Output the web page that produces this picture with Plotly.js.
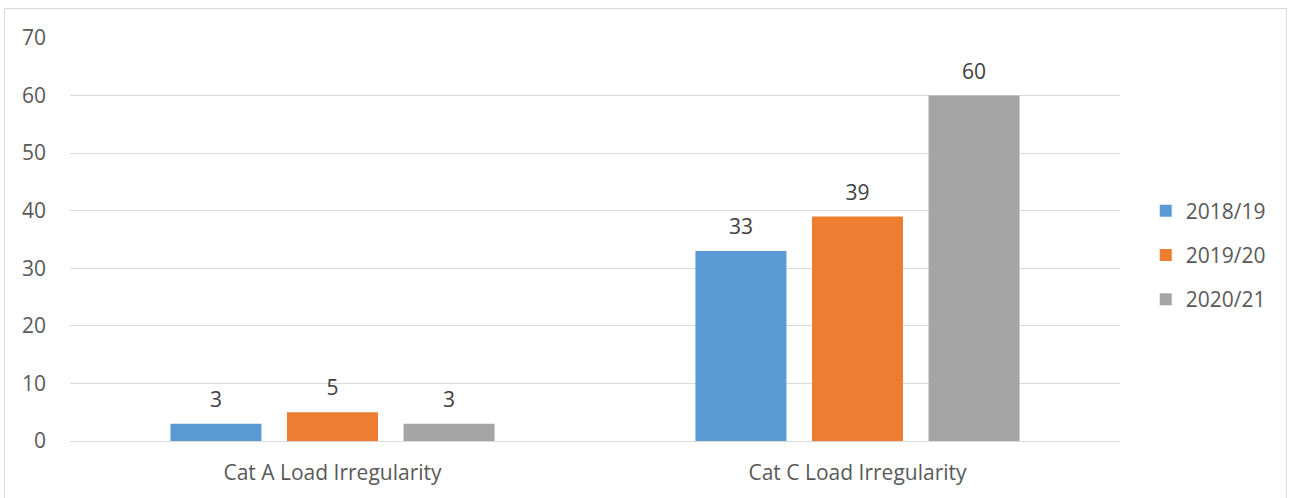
<!DOCTYPE html>
<html>
<head>
<meta charset="utf-8">
<script src="https://cdn.plot.ly/plotly-3.0.1.min.js"></script>
<style>
html,body{margin:0;padding:0;background:#fff;}
#frame{position:absolute;left:4px;top:8px;width:1283px;height:500px;border:1px solid #d9d9d9;box-sizing:border-box;}
#chart{position:absolute;left:0;top:0;width:1290px;height:498px;}
</style>
</head>
<body>
<div id="frame"></div>
<div id="chart"></div>
<script>
const categories = ["Cat A Load Irregularity", "Cat C Load Irregularity"];
const seriesNames = ["2018/19", "2019/20", "2020/21"];
const values2018 = [3, 33];
const values2019 = [5, 39];
const values2020 = [3, 60];
const colors = ["#5B9BD5", "#ED7D31", "#A5A5A5"];
const yTicks = [0, 10, 20, 30, 40, 50, 60, 70];

const allValues = [values2018, values2019, values2020];
const barTraces = allValues.map((vals, i) => ({
  type: "bar",
  name: seriesNames[i],
  x: categories,
  y: vals,
  marker: {color: colors[i]},
  legendgroup: "g" + i,
  hoverinfo: "none"
}));
const labelTraces = allValues.map((vals, i) => ({
  type: "scatter",
  mode: "markers+text",
  x: categories,
  y: vals,
  text: vals.map(String),
  textposition: "top center",
  marker: {size: 17, opacity: 0},
  textfont: {family: "Open Sans, sans-serif", size: 21, color: "#404040"},
  cliponaxis: false,
  showlegend: false,
  hoverinfo: "none"
}));

const layout = {
  width: 1290,
  height: 498,
  margin: {l: 70, r: 170, t: 38, b: 57},
  paper_bgcolor: "rgba(0,0,0,0)",
  plot_bgcolor: "rgba(0,0,0,0)",
  barmode: "group",
  bargap: 0.334,
  bargroupgap: 0.219,
  scattermode: "group",
  scattergap: 0.334,
  font: {family: "Open Sans, sans-serif", size: 21, color: "#595959"},
  xaxis: {
    type: "category",
    showgrid: false,
    showline: true,
    linecolor: "#d9d9d9",
    linewidth: 1,
    ticks: "",
    ticklabelstandoff: 13,
    tickfont: {size: 21, color: "#595959"}
  },
  yaxis: {
    range: [0, 70],
    tickvals: yTicks,
    showgrid: true,
    gridcolor: "#d9d9d9",
    gridwidth: 1,
    zeroline: true,
    zerolinecolor: "#d9d9d9",
    showline: false,
    ticks: "",
    ticklabelstandoff: 23,
    tickfont: {size: 21, color: "#595959"}
  },
  legend: {
    x: 1.0245,
    y: 0.4615,
    xanchor: "left",
    yanchor: "middle",
    traceorder: "grouped",
    tracegroupgap: 14,
    font: {size: 21, color: "#595959"},
    itemwidth: 30
  },
  showlegend: true
};

Plotly.newPlot("chart", barTraces.concat(labelTraces), layout, {displayModeBar: false, staticPlot: true});
</script>
</body>
</html>
